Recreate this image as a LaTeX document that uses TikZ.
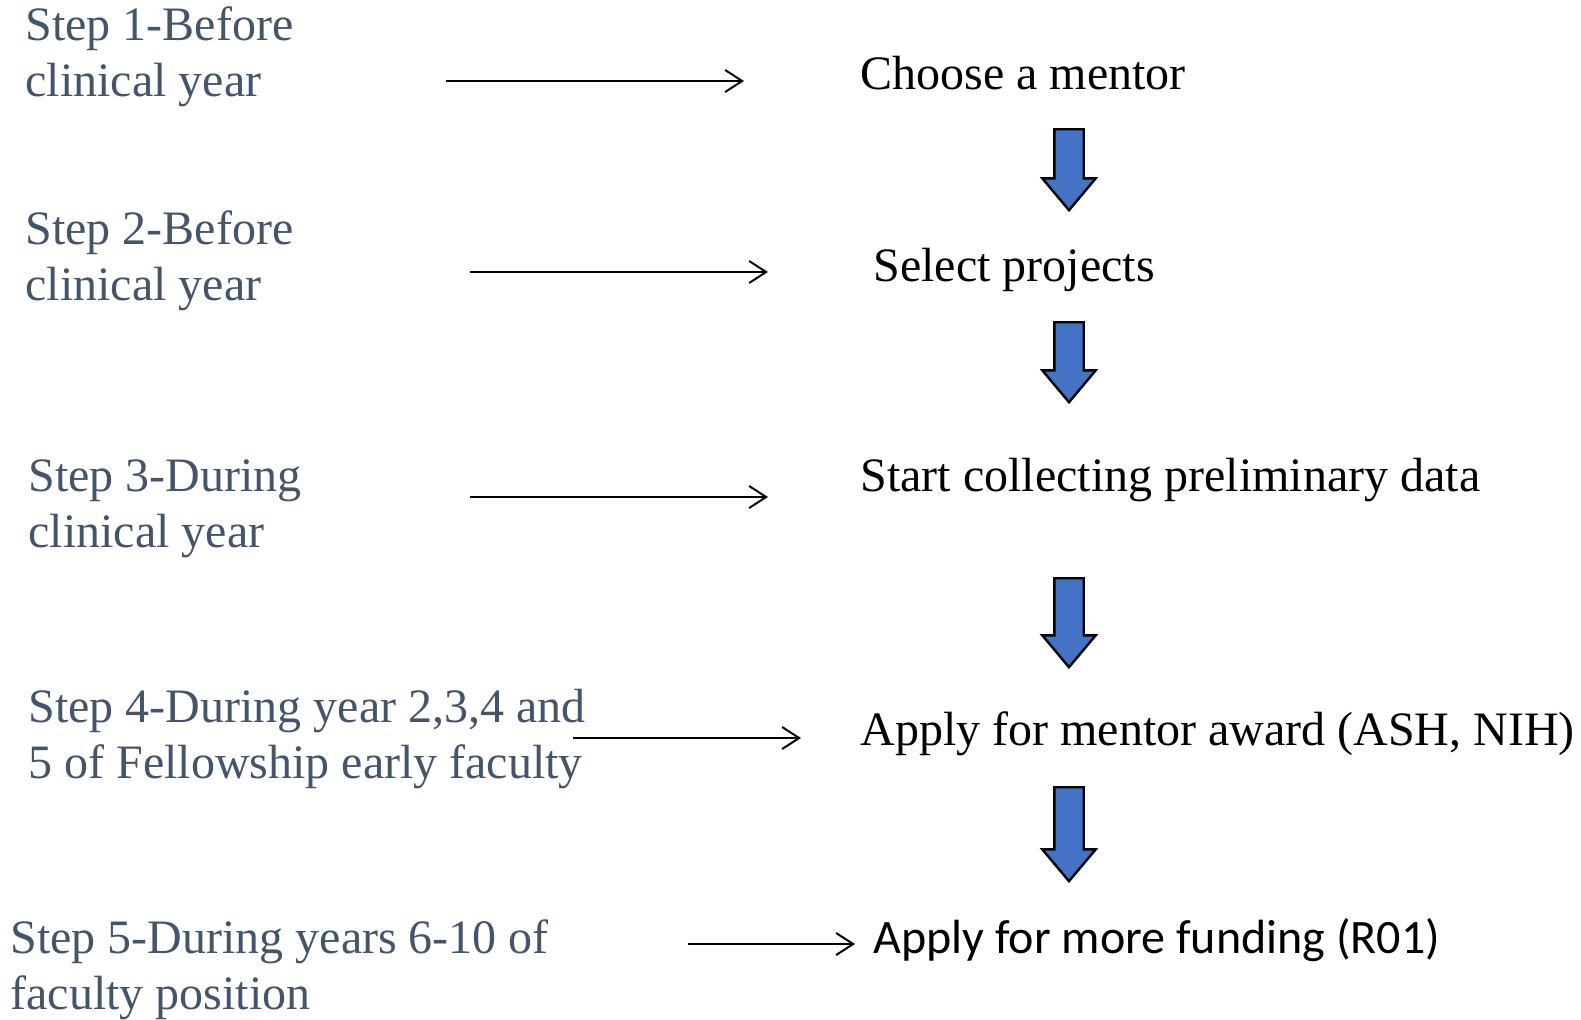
\documentclass[tikz,border=0pt]{standalone}
\usepackage{fontspec}
\setmainfont{Liberation Serif}
\newfontfamily\calibrifont{Carlito}
\usetikzlibrary{arrows.meta,shapes.arrows}
\definecolor{stepgray}{HTML}{44546A}
\definecolor{flowblue}{HTML}{4472C4}

\tikzset{
  steplabel/.style={anchor=west, inner sep=0pt, align=left, text=stepgray,
    font=\fontsize{24}{28}\selectfont},
  tasklabel/.style={anchor=base west, inner sep=0pt, font=\fontsize{24}{28}\selectfont},
  timeline/.style={-{Straight Barb[length=8.5pt,width=11pt]}, line width=1pt},
  blockarrow/.style={shape=single arrow, draw, line width=1.2pt, fill=flowblue,
    shape border rotate=270, inner sep=6.75pt, minimum width=0pt, anchor=tail,
    single arrow head extend=6pt, single arrow tip angle=80, minimum height=#1},
}

\begin{document}
\begin{tikzpicture}[x=0.5pt,y=-0.5pt]
\useasboundingbox (0,0) rectangle (1581,1019);
% steps on the left
\node[steplabel] (step1) at (25,57) {Step 1-Before\\clinical year};
\node[steplabel] (step2) at (25,261) {Step 2-Before\\clinical year};
\node[steplabel] (step3) at (28,509) {Step 3-During\\clinical year};
\node[steplabel] (step4) at (28,739) {Step 4-During year 2,3,4 and\\5 of Fellowship early faculty};
\node[steplabel] (step5) at (10,970) {Step 5-During years 6-10 of\\faculty position};
% tasks on the right
\node[tasklabel] (mentor) at (860,89) {Choose a mentor};
\node[tasklabel] (projects) at (873,281) {Select projects};
\node[tasklabel] (data) at (860,491) {Start collecting preliminary data};
\node[tasklabel] (award) at (860,745) {Apply for mentor award (ASH, NIH)};
\node[tasklabel, font=\calibrifont\fontsize{24}{28}\selectfont] (funding) at (873,953) {Apply for more funding (R01)};
% thin arrows from step to task
\coordinate (s1a) at (446,81);  \coordinate (s1b) at (744,81);
\coordinate (s2a) at (470,272); \coordinate (s2b) at (768,272);
\coordinate (s3a) at (470,497); \coordinate (s3b) at (768,497);
\coordinate (s4a) at (573,738); \coordinate (s4b) at (801,738);
\coordinate (s5a) at (688,944); \coordinate (s5b) at (855,944);
\draw[timeline] (s1a) -- (s1b);
\draw[timeline] (s2a) -- (s2b);
\draw[timeline] (s3a) -- (s3b);
\draw[timeline] (s4a) -- (s4b);
\draw[timeline] (s5a) -- (s5b);
% block arrows between tasks, placed by their tails
\node[blockarrow=40.5pt] (down1) at (1069,128) {};
\node[blockarrow=40pt] (down2) at (1069,321) {};
\node[blockarrow=44.5pt] (down3) at (1069,577) {};
\node[blockarrow=47pt] (down4) at (1069,786) {};
\end{tikzpicture}
\end{document}
